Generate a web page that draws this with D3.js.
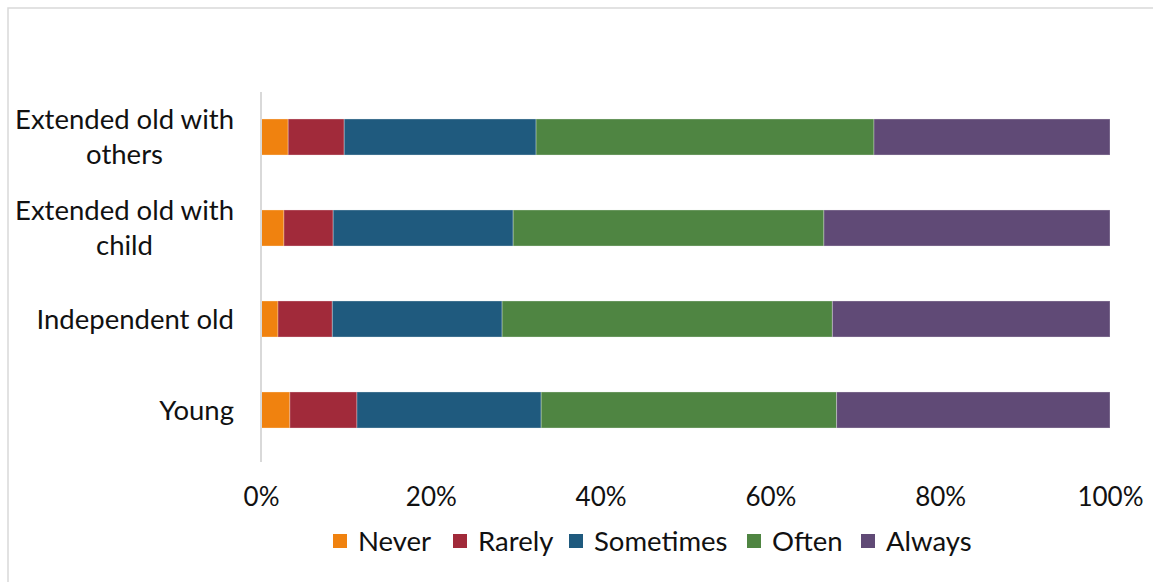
<!DOCTYPE html>
<html>
<head>
<meta charset="utf-8">
<script src="https://cdn.jsdelivr.net/npm/d3@7"></script>
<style>
  html, body { margin: 0; padding: 0; background: #fff; }
  svg { display: block; }
  text { font-family: Lato, "Open Sans", sans-serif; fill: #111; }
</style>
</head>
<body>
<svg id="chart" width="1153" height="582"></svg>
<script>
// Household groups, top to bottom
const categories = ["Extended old with others", "Extended old with child", "Independent old", "Young"];
const categoryLines = [["Extended old with", "others"], ["Extended old with", "child"], ["Independent old"], ["Young"]];

// Response options (stack order, left to right)
const responses = ["Never", "Rarely", "Sometimes", "Often", "Always"];
const colors = ["#F0820F", "#A12A3A", "#1F5A7E", "#4F8542", "#604A76"];

// Share of respondents (%) per group, in the order of `categories`
const never     = [3.2, 2.7, 2.0, 3.4];
const rarely    = [6.6, 5.8, 6.4, 7.9];
const sometimes = [22.6, 21.2, 20.0, 21.7];
const often     = [39.8, 36.6, 38.9, 34.8];
const always    = [27.8, 33.7, 32.7, 32.2];

const tickValues = [0, 20, 40, 60, 80, 100];

const seriesValues = [never, rarely, sometimes, often, always];
const rows = categories.map((c, i) => {
  const r = { category: c };
  responses.forEach((k, j) => { r[k] = seriesValues[j][i]; });
  return r;
});

const svg = d3.select("#chart");

// Outer frame
svg.append("rect")
  .attr("x", 8).attr("y", 8)
  .attr("width", 1200).attr("height", 700)
  .attr("fill", "none")
  .attr("stroke", "#d9d9d9")
  .attr("stroke-width", 1.5);

const x = d3.scaleLinear().domain([0, 100]).range([261, 1110]);
const y = d3.scaleBand().domain(categories).range([91.5, 455.5])
  .paddingInner(0.604).paddingOuter(0.302);

const stack = d3.stack().keys(responses);
const layers = stack(rows.map(r => {
  // normalise each row so that it fills the full 0-100 range
  const tot = d3.sum(responses, k => r[k]);
  const o = { category: r.category };
  responses.forEach(k => { o[k] = r[k] / tot * 100; });
  return o;
}));

svg.append("g").selectAll("g")
  .data(layers)
  .join("g")
    .attr("fill", (d, i) => colors[i])
  .selectAll("rect")
  .data(d => d)
  .join("rect")
    .attr("x", d => x(d[0]))
    .attr("y", d => y(d.data.category))
    .attr("width", d => x(d[1]) - x(d[0]))
    .attr("height", y.bandwidth())
    .attr("stroke", "rgba(255,255,255,0.3)")
    .attr("stroke-width", 1);

// Vertical category axis line
svg.append("line")
  .attr("x1", x(0)).attr("x2", x(0))
  .attr("y1", 92).attr("y2", 462)
  .attr("stroke", "#d9d9d9")
  .attr("stroke-width", 2);

// Category labels (wrapped lines centred on each other, block right-aligned)
const labelRight = 234;
const lh = 35;
svg.append("g").selectAll("text")
  .data(categories)
  .join("text")
    .attr("font-size", 27.5)
    .attr("y", d => y(d) + y.bandwidth() / 2)
  .each(function(d, i) {
    const lines = categoryLines[i];
    const t = d3.select(this);
    const y0 = -(lines.length - 1) * lh / 2;
    const spans = lines.map((ln, k) => t.append("tspan")
      .attr("dy", k === 0 ? (y0 + 9.5) : lh)
      .text(ln));
    const widths = spans.map(s => s.node().getComputedTextLength());
    const w = d3.max(widths);
    const cx = labelRight - w / 2;
    spans.forEach(s => s.attr("x", cx).attr("text-anchor", "middle"));
  });

// Horizontal percent axis
const xAxis = d3.axisBottom(x).tickValues(tickValues).tickFormat(d => d + "%").tickSize(0).tickPadding(0);
const gx = svg.append("g").attr("transform", "translate(0,488)").call(xAxis);
gx.select(".domain").remove();
gx.selectAll("text")
  .attr("font-size", 26)
  .attr("font-family", "Lato, sans-serif")
  .attr("fill", "#111")
  .attr("dy", "0.68em");

// Legend
const legendX = [333, 453, 569, 747, 861];
const legend = svg.append("g").selectAll("g")
  .data(responses)
  .join("g")
    .attr("transform", (d, i) => `translate(${legendX[i]},534)`);
legend.append("rect")
  .attr("width", 14).attr("height", 14)
  .attr("fill", (d, i) => colors[i]);
legend.append("text")
  .attr("x", 25).attr("y", 16.5)
  .attr("font-size", 27.5)
  .text(d => d);
</script>
</body>
</html>
